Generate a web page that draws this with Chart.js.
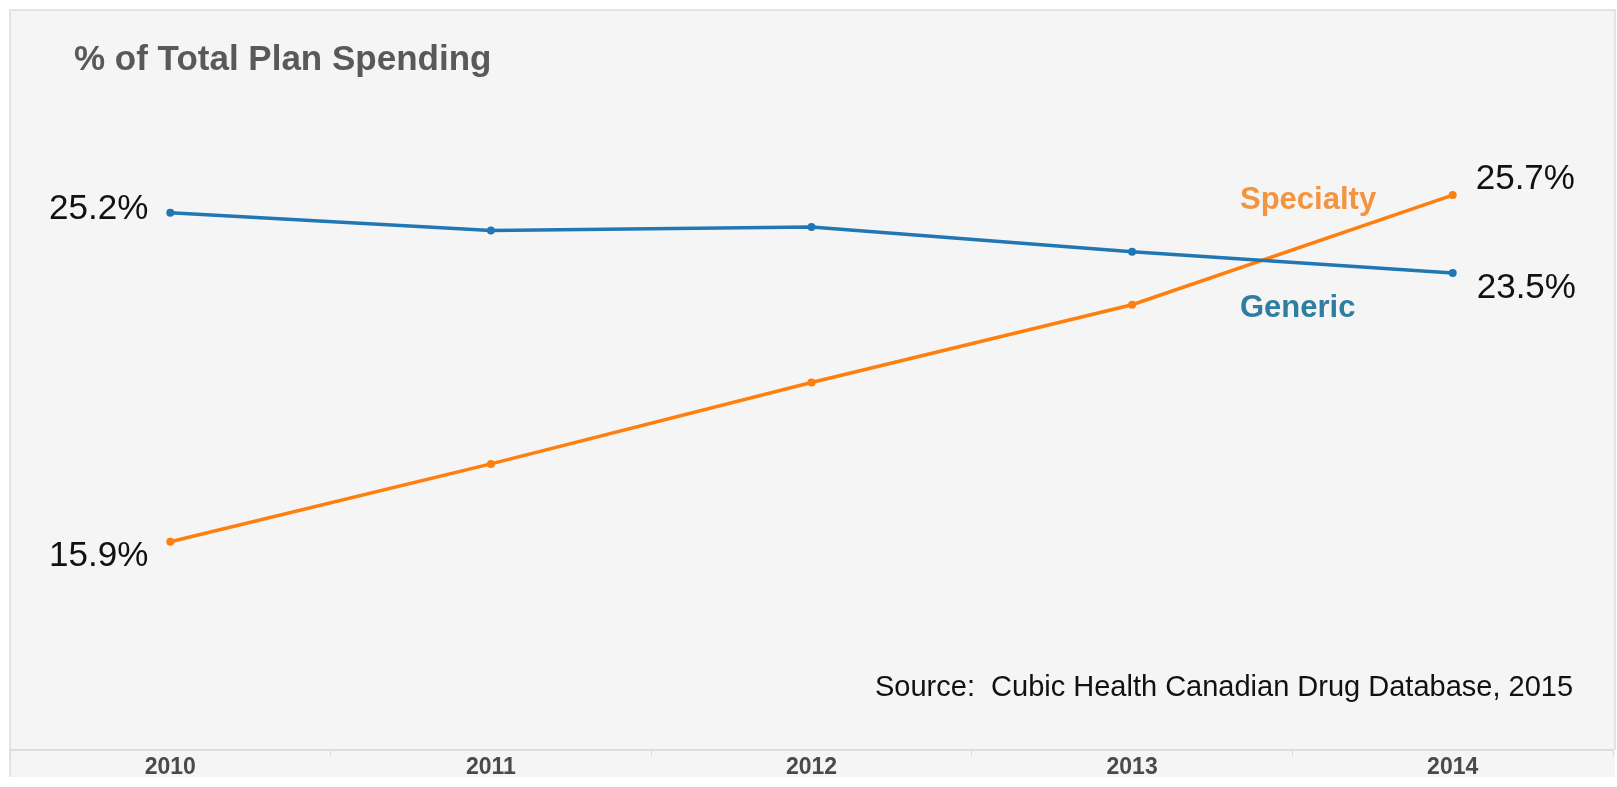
<!DOCTYPE html>
<html>
<head>
<meta charset="utf-8">
<script src="https://cdn.jsdelivr.net/npm/chart.js@4/dist/chart.umd.min.js"></script>
<style>
  html, body { margin: 0; padding: 0; background: #fff; }
  #wrap { position: relative; width: 1617px; height: 787px; }
</style>
</head>
<body>
<div id="wrap"><canvas id="lineChart"></canvas></div>
<script>
    // Chart data
    var years = ['2010', '2011', '2012', '2013', '2014'];
    var genericValues = [25.2, 24.7, 24.8, 24.1, 23.5];
    var specialtyValues = [15.9, 18.1, 20.4, 22.6, 25.7];
    var titleText = '% of Total Plan Spending';
    var sourceText = 'Source:  Cubic Health Canadian Drug Database, 2015';

    var FONT = '"Liberation Sans", Arial, sans-serif';

    // Grey panel behind the chart
    var panelPlugin = {
        id: 'panel',
        beforeDraw: function (chart) {
            var ctx = chart.ctx;
            ctx.save();
            ctx.fillStyle = '#f5f5f5';
            ctx.fillRect(10, 10, 1605, 767);
            ctx.strokeStyle = '#dcdcdc';
            ctx.lineWidth = 1.5;
            ctx.beginPath();
            ctx.moveTo(10, 777);
            ctx.lineTo(10, 10);
            ctx.lineTo(1615, 10);
            ctx.lineTo(1615, 750);
            ctx.stroke();
            ctx.restore();
        }
    };

    // Title, source, series names and end value labels
    var labelPlugin = {
        id: 'labels',
        afterDatasetsDraw: function (chart) {
            var ctx = chart.ctx;
            var x = chart.scales.x, y = chart.scales.y;
            var first = 0, last = years.length - 1;
            ctx.save();
            ctx.textBaseline = 'middle';

            ctx.fillStyle = '#595959';
            ctx.font = 'bold 35px ' + FONT;
            ctx.textAlign = 'left';
            ctx.fillText(titleText, 74, 60);

            ctx.fillStyle = '#111';
            ctx.font = '29px ' + FONT;
            ctx.fillText(sourceText, 875, 688, 706);

            ctx.font = '35px ' + FONT;
            ctx.textAlign = 'right';
            ctx.fillText(genericValues[first].toFixed(1) + '%', x.getPixelForValue(first) - 22, y.getPixelForValue(genericValues[first]) - 3);
            ctx.fillText(specialtyValues[first].toFixed(1) + '%', x.getPixelForValue(first) - 22, y.getPixelForValue(specialtyValues[first]) + 15);
            ctx.textAlign = 'left';
            ctx.fillText(specialtyValues[last].toFixed(1) + '%', x.getPixelForValue(last) + 23, y.getPixelForValue(specialtyValues[last]) - 16);
            ctx.fillText(genericValues[last].toFixed(1) + '%', x.getPixelForValue(last) + 24, y.getPixelForValue(genericValues[last]) + 15);

            ctx.font = 'bold 31px ' + FONT;
            ctx.fillStyle = '#f39440';
            ctx.fillText('Specialty', 1240, 200);
            ctx.fillStyle = '#2f7ea1';
            ctx.fillText('Generic', 1240, 308);
            ctx.restore();
        }
    };

    var ctxLine = document.getElementById('lineChart').getContext('2d');
    var myLineChart = new Chart(ctxLine, {
        type: 'line',
        data: {
            labels: years,
            datasets: [{
                label: 'Generic',
                data: genericValues,
                borderColor: '#2077b4',
                backgroundColor: '#2077b4',
                borderWidth: 3.5,
                pointRadius: 4,
                pointBorderWidth: 0,
                tension: 0
            }, {
                label: 'Specialty',
                data: specialtyValues,
                borderColor: '#ff7f0e',
                backgroundColor: '#ff7f0e',
                borderWidth: 3.5,
                pointRadius: 4,
                pointBorderWidth: 0,
                tension: 0
            }]
        },
        options: {
            responsive: true,
            maintainAspectRatio: false,
            animation: false,
            layout: { padding: { left: 10, right: 0, top: 43, bottom: 9 } },
            plugins: {
                legend: { display: false },
                tooltip: { enabled: false }
            },
            scales: {
                x: {
                    offset: true,
                    border: { display: true, color: '#dcdcdc', width: 2 },
                    grid: { offset: true, drawOnChartArea: false, drawTicks: true, tickLength: 6, color: '#dcdcdc' },
                    ticks: { color: '#4a4a4a', font: { family: FONT, size: 23, weight: 'bold' }, padding: -3 }
                },
                y: {
                    display: false,
                    min: 10,
                    max: 30
                }
            }
        },
        plugins: [panelPlugin, labelPlugin]
    });
</script>
</body>
</html>
